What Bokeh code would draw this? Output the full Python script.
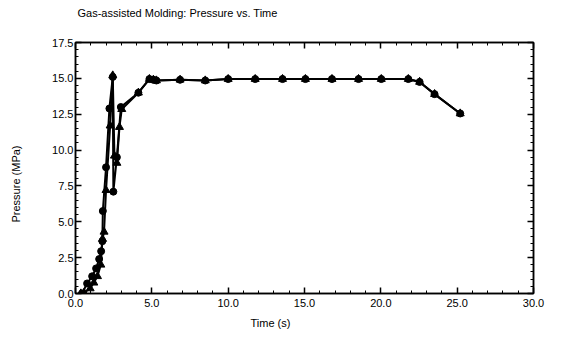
import math
from bokeh.plotting import figure
from bokeh.models import Range1d, LinearAxis, SingleIntervalTicker, PrintfTickFormatter, Title
from bokeh.embed import file_html
from bokeh.resources import INLINE

# ---- data ----
circle_time = [0.43, 0.76, 1.09, 1.35, 1.55, 1.68, 1.76, 1.79, 2.0, 2.22, 2.44,
               2.48, 2.71, 2.97, 4.12,
               4.84, 5.1, 5.3, 6.85, 8.5, 10.0, 11.77, 13.56, 15.06, 16.8, 18.54,
               20.03, 21.8, 22.54, 23.52, 25.2]
circle_pressure = [0.0, 0.7, 1.2, 1.75, 2.4, 2.95, 3.65, 5.75, 8.8, 12.9, 15.1,
                   7.1, 9.5, 13.0, 14.0,
                   14.95, 14.9, 14.85, 14.9, 14.85, 14.95, 14.95, 14.95, 14.95, 14.95, 14.95,
                   14.95, 14.95, 14.75, 13.9, 12.55]

triangle_time = [0.35, 0.56, 0.96, 1.2, 1.44, 1.66, 1.77, 1.87, 2.0, 2.27, 2.44,
                 2.55, 2.71, 2.88, 3.03, 4.12,
                 4.84, 5.1, 5.3, 6.85, 8.5, 10.0, 11.77, 13.56, 15.06, 16.8, 18.54,
                 20.03, 21.8, 22.54, 23.52, 25.2]
triangle_pressure = [0.0, 0.05, 0.35, 0.75, 1.2, 2.0, 3.8, 4.3, 7.2, 11.7, 15.2,
                     9.6, 9.1, 11.6, 12.85, 14.0,
                     14.95, 14.9, 14.85, 14.9, 14.85, 14.95, 14.95, 14.95, 14.95, 14.95, 14.95,
                     14.95, 14.95, 14.75, 13.9, 12.55]

title_text = "Gas-assisted Molding: Pressure  vs. Time"
x_label = "Time (s)"
y_label = "Pressure (MPa)"

FONT = "Liberation Sans"

p = figure(width=554, height=336, output_backend="svg", toolbar_location=None,
           x_range=Range1d(0, 30), y_range=Range1d(0, 17.5),
           min_border_left=75, min_border_right=21, min_border_top=42, min_border_bottom=43,
           x_axis_location=None, y_axis_location=None, title=None)
p.grid.visible = False
p.outline_line_color = "black"
p.outline_line_width = 1.5
p.background_fill_color = "white"
p.border_fill_color = "white"

def make_axis(interval, labels):
    ax = LinearAxis(ticker=SingleIntervalTicker(interval=interval, num_minor_ticks=5),
                    formatter=PrintfTickFormatter(format="%.1f"))
    ax.axis_line_color = "black"
    ax.axis_line_width = 1.5
    ax.major_tick_in = 6
    ax.major_tick_out = 0
    ax.minor_tick_in = 3
    ax.minor_tick_out = 0
    ax.major_tick_line_color = "black"
    ax.minor_tick_line_color = "black"
    ax.major_tick_line_width = 1.5
    ax.minor_tick_line_width = 1
    ax.major_label_text_font = FONT
    ax.major_label_text_font_size = "11px"
    ax.major_label_text_color = "black"
    if not labels:
        ax.major_label_text_font_size = "0px"
        ax.major_label_text_alpha = 0
        ax.major_label_standoff = 0
    return ax

bottom = make_axis(5, True)
bottom.major_label_standoff = 5
left = make_axis(2.5, True)
left.major_label_standoff = 2
top = make_axis(5, False)
right = make_axis(2.5, False)
p.add_layout(bottom, "below")
p.add_layout(left, "left")
p.add_layout(top, "above")
p.add_layout(right, "right")

p.line(circle_time, circle_pressure, line_color="black", line_width=2)
p.line(triangle_time, triangle_pressure, line_color="black", line_width=2)
p.scatter(circle_time, circle_pressure, marker="circle", size=7,
          fill_color="black", line_color="black")
p.scatter(triangle_time, triangle_pressure, marker="triangle", size=8,
          fill_color="black", line_color="black")

def spacer(gap):
    return Title(text=" ", text_font=FONT, text_font_size="11px", standoff=gap)

p.add_layout(spacer(10), "above")
title = Title(text=title_text, text_font=FONT, text_font_size="11px",
              text_font_style="normal", text_color="black", align="left", offset=2,
              standoff=0)
p.add_layout(title, "above")

xt = Title(text=x_label, text_font=FONT, text_font_size="11px", text_font_style="normal",
           text_color="black", align="left", offset=175, standoff=10)
p.add_layout(xt, "below")

p.add_layout(spacer(14), "left")
yt = Title(text=y_label, text_font=FONT, text_font_size="11px", text_font_style="normal",
           text_color="black", align="left", offset=71, standoff=0)
p.add_layout(yt, "left")

open("out.html", "w").write(file_html(p, INLINE))
